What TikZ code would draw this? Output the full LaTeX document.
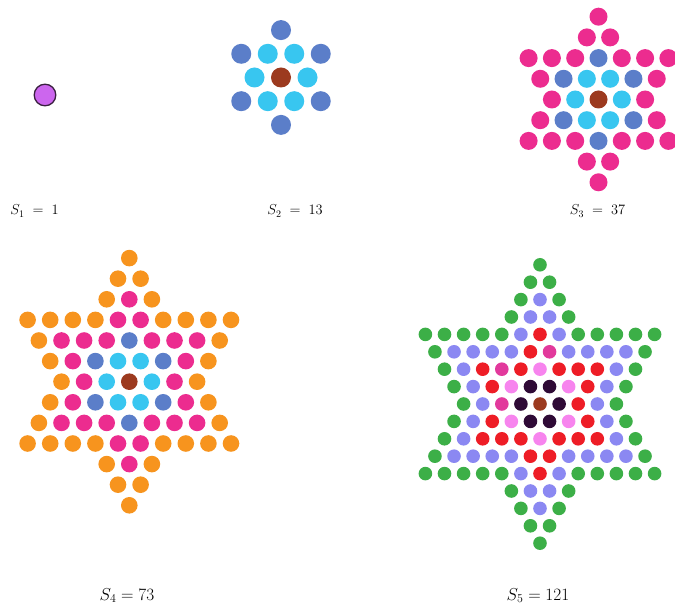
\documentclass[tikz,border=0pt]{standalone}
\definecolor{Cb}{HTML}{9C3A1F}
\definecolor{Cc}{HTML}{38C6F0}
\definecolor{Cs}{HTML}{5B7EC9}
\definecolor{CP}{HTML}{EC2C8F}
\definecolor{Co}{HTML}{F7941E}
\definecolor{Cg}{HTML}{3CAF47}
\definecolor{Cl}{HTML}{8B88F2}
\definecolor{Cr}{HTML}{EE1D26}
\definecolor{Cm}{HTML}{E2399C}
\definecolor{Cp}{HTML}{F784EE}
\definecolor{Ck}{HTML}{2F0A36}
\definecolor{Cv}{HTML}{CC66EE}
\definecolor{Cvd}{HTML}{3A2040}
\newcommand\dotstar[6]{%
  \foreach \rr/\mm/\cl in {#6} {%
    \foreach \cc [count=\ii] in \cl {%
      \pgfmathsetmacro\xx{#1+(\ii-1-(\mm-1)/2)*#3}%
      \pgfmathsetmacro\yy{#2-\rr*#4}%
      \fill[C\cc] (\xx,\yy) circle (#5);
    }}}
\begin{document}
\begin{tikzpicture}[x=1pt,y=-1pt,
  lbltop/.style={anchor=base,inner sep=0pt,font=\fontsize{14.4}{17}\selectfont},
  lblbot/.style={anchor=base,inner sep=0pt,font=\fontsize{17.28}{21}\selectfont}]
\useasboundingbox (0,0) rectangle (675,609);
\fill[white] (0,0) rectangle (675,609);
% S1
\filldraw[fill=Cv,draw=Cvd,line width=1.3pt] (45,95) circle (10.8);
% S2
\dotstar{281}{77.5}{26.5}{23.7}{10}{
  2/1/{s}, 1/4/{s,c,c,s}, 0/3/{c,b,c}, -1/4/{s,c,c,s}, -2/1/{s}}
% S3
\dotstar{598.5}{99.5}{23.3}{20.7}{9}{
  4/1/{P}, 3/2/{P,P}, 2/7/{P,P,P,s,P,P,P}, 1/6/{P,s,c,c,s,P},
  0/5/{P,c,b,c,P}, -1/6/{P,s,c,c,s,P}, -2/7/{P,P,P,s,P,P,P},
  -3/2/{P,P}, -4/1/{P}}
% S4
\dotstar{129.3}{381.7}{22.6}{20.6}{8.3}{
  6/1/{o}, 5/2/{o,o}, 4/3/{o,P,o}, 3/10/{o,o,o,o,P,P,o,o,o,o},
  2/9/{o,P,P,P,s,P,P,P,o}, 1/8/{o,P,s,c,c,s,P,o}, 0/7/{o,P,c,b,c,P,o},
  -1/8/{o,P,s,c,c,s,P,o}, -2/9/{o,P,P,P,s,P,P,P,o},
  -3/10/{o,o,o,o,P,P,o,o,o,o}, -4/3/{o,P,o}, -5/2/{o,o}, -6/1/{o}}
% S5
\dotstar{540}{404}{19.1}{17.4}{6.8}{
  8/1/{g}, 7/2/{g,g}, 6/3/{g,l,g}, 5/4/{g,l,l,g},
  4/13/{g,g,g,g,g,l,r,l,g,g,g,g,g},
  3/12/{g,l,l,l,l,r,m,l,l,l,l,g},
  2/11/{g,l,r,m,r,p,r,r,r,l,g},
  1/10/{g,l,r,p,k,k,p,r,l,g},
  0/9/{g,l,m,k,b,k,r,l,g},
  -1/10/{g,l,r,p,k,k,p,r,l,g},
  -2/11/{g,l,r,r,r,p,r,r,r,l,g},
  -3/12/{g,l,l,l,l,r,r,l,l,l,l,g},
  -4/13/{g,g,g,g,g,l,r,l,g,g,g,g,g},
  -5/4/{g,l,l,g}, -6/3/{g,l,g}, -7/2/{g,g}, -8/1/{g}}
% labels
\node[lbltop] (l1) at (34.5,215) {$S_1\;=\;1$};
\node[lbltop] (l2) at (295,215) {$S_2\;=\;13$};
\node[lbltop] (l3) at (597.5,215) {$S_3\;=\;37$};
\node[lblbot] (l4) at (127,600) {$S_4=73$};
\node[lblbot] (l5) at (538,600) {$S_5=121$};
\end{tikzpicture}
\end{document}
